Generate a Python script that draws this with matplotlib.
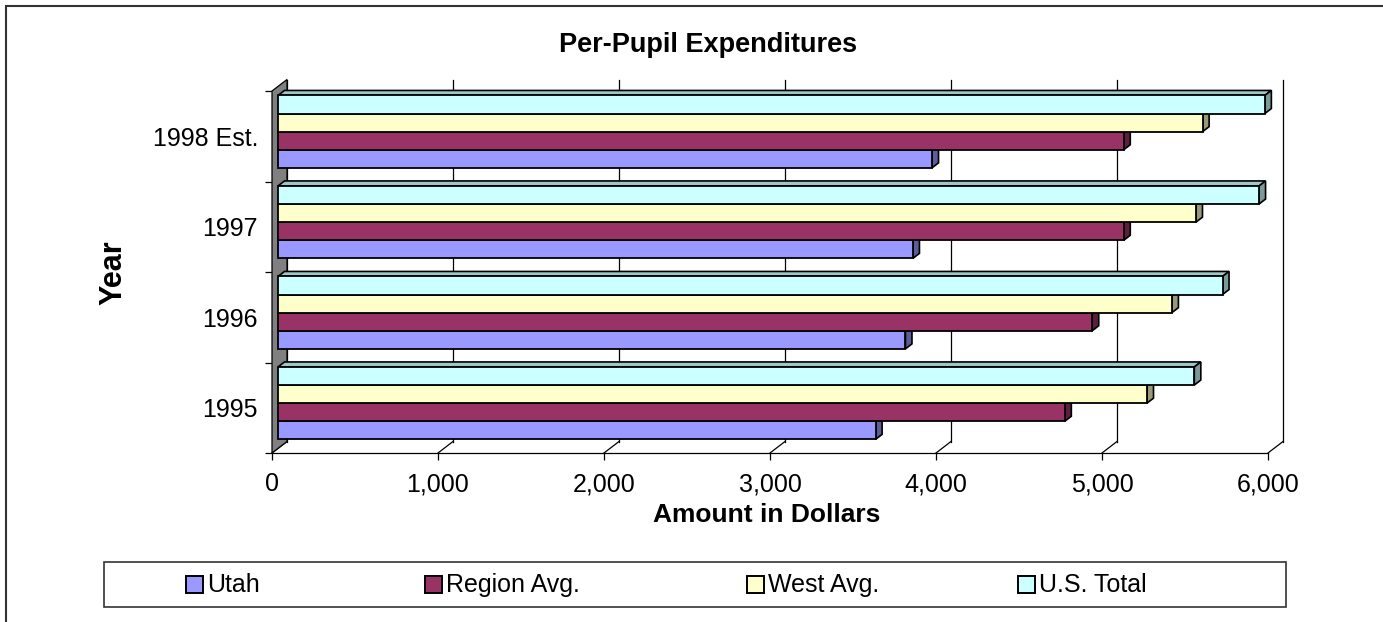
import matplotlib
matplotlib.use("Agg")
import matplotlib.pyplot as plt
import matplotlib.patches as mpatches
from matplotlib.ticker import FuncFormatter
import numpy as np

# ---- data ----
years = ["1995", "1996", "1997", "1998 Est."]
series_names = ["Utah", "Region Avg.", "West Avg.", "U.S. Total"]
utah = [3600, 3780, 3825, 3940]
region_avg = [4740, 4905, 5095, 5095]
west_avg = [5235, 5385, 5530, 5570]
us_total = [5520, 5690, 5910, 5945]

colors = ["#9999FF", "#993366", "#FFFFCC", "#CCFFFF"]

W, H = 1383, 622
plt.rcParams["font.family"] = ["Liberation Sans", "DejaVu Sans"]

fig = plt.figure(figsize=(W / 100, H / 100), dpi=100)

# front plane of the "3d" plot, in pixels
x0_px, x1_px = 272, 1268
ytop_px, ybot_px = 91, 453
ax = fig.add_axes([x0_px / W, (H - ybot_px) / H,
                   (x1_px - x0_px) / W, (ybot_px - ytop_px) / H])
ax.set_xlim(0, 6000)
ax.set_ylim(-0.5, 3.5)

# data units per pixel, used for the fake depth
sx = 6000 / (x1_px - x0_px)
sy = 4 / (ybot_px - ytop_px)
wall_dx, wall_dy = 15 * sx, 11.5 * sy
bar_ox, bar_oy = 6 * sx, 4.6 * sy
cap_dx, cap_dy = 6.5 * sx, 5 * sy


def darker(c, f):
    r, g, b = matplotlib.colors.to_rgb(c)
    return (r * f, g * f, b * f)


# back wall gridlines
ticks = np.arange(0, 6001, 1000)
for v in ticks:
    ax.plot([v + wall_dx, v + wall_dx], [-0.5 + wall_dy, 3.5 + wall_dy],
            color="black", lw=0.9, clip_on=False, zorder=1)
    # floor diagonals
    ax.plot([v, v + wall_dx], [-0.5, -0.5 + wall_dy],
            color="black", lw=0.9, clip_on=False, zorder=1)

# left wall
wall = mpatches.Polygon([(0, -0.5), (0, 3.5), (wall_dx, 3.5 + wall_dy),
                         (wall_dx, -0.5 + wall_dy)], closed=True,
                        facecolor="#808080", edgecolor="black", lw=0.9,
                        clip_on=False, zorder=2)
ax.add_patch(wall)

# bars
all_vals = [utah, region_avg, west_avg, us_total]
y = np.arange(len(years))
bh = 0.2
z = 3
for i, vals in enumerate(all_vals):
    pos = y - 0.4 + (i + 0.5) * bh + bar_oy
    bars = ax.barh(pos, vals, height=bh, left=bar_ox, color=colors[i],
                   edgecolor="black", lw=1.3, zorder=z + 2, clip_on=False,
                   label=series_names[i])
    for j, v in enumerate(vals):
        yb = pos[j] - bh / 2
        yt = pos[j] + bh / 2
        xr = bar_ox + v
        top = mpatches.Polygon([(bar_ox, yt), (xr, yt), (xr + cap_dx, yt + cap_dy),
                                (bar_ox + cap_dx, yt + cap_dy)],
                               facecolor=darker(colors[i], 0.78),
                               edgecolor="black", lw=1.2, clip_on=False, zorder=z)
        side = mpatches.Polygon([(xr, yb), (xr + cap_dx, yb + cap_dy),
                                 (xr + cap_dx, yt + cap_dy), (xr, yt)],
                                facecolor=darker(colors[i], 0.6),
                                edgecolor="black", lw=1.2, clip_on=False, zorder=z + 1)
        ax.add_patch(top)
        ax.add_patch(side)
    z += 3

# axes decoration
for s in ["top", "right", "left"]:
    ax.spines[s].set_visible(False)
ax.spines["bottom"].set_linewidth(0.9)
ax.patch.set_alpha(0)

ax.set_xticks(ticks)
ax.xaxis.set_major_formatter(FuncFormatter(lambda v, p: f"{int(v):,}"))
ax.tick_params(axis="x", direction="out", length=5, width=0.9, pad=9, labelsize=18)

ax.set_yticks(y)
ax.set_yticklabels(years)
ax.set_yticks(np.arange(-0.5, 3.6, 1), minor=True)
ax.tick_params(axis="y", which="major", length=0, pad=10, labelsize=18)
ax.tick_params(axis="y", which="minor", length=5, width=0.9)

# titles
fig.text(708 / W, 1 - 52 / H, "Per-Pupil Expenditures", ha="center",
         va="baseline", fontsize=19.5, fontweight="bold")
fig.text(113 / W, 1 - 273 / H, "Year", ha="center", va="center",
         rotation=90, fontsize=22, fontweight="bold")
fig.text(767 / W, 1 - 515 / H, "Amount in Dollars", ha="center", va="center",
         fontsize=19, fontweight="bold")

# legend box drawn by hand to keep the uneven spacing
fig.patches.append(mpatches.Rectangle((104 / W, 1 - 607 / H), (1286 - 104) / W,
                                      45 / H, transform=fig.transFigure,
                                      facecolor="white", edgecolor="#333333", lw=1.2))
leg_x = [186, 425, 747, 1018]
for i, name in enumerate(series_names):
    fig.patches.append(mpatches.Rectangle((leg_x[i] / W, 1 - 593 / H), 17 / W, 17 / H,
                                          transform=fig.transFigure,
                                          facecolor=colors[i], edgecolor="black", lw=1.4))
    fig.text((leg_x[i] + 21) / W, 1 - 585 / H, name, ha="left", va="center",
             fontsize=18)

# outer chart border
fig.patches.append(mpatches.Rectangle((6 / W, -0.05), 1.1, 1 - 6 / H + 0.05,
                                      transform=fig.transFigure, fill=False,
                                      edgecolor="#333333", lw=1.5))

fig.savefig("out.png", dpi=100)
